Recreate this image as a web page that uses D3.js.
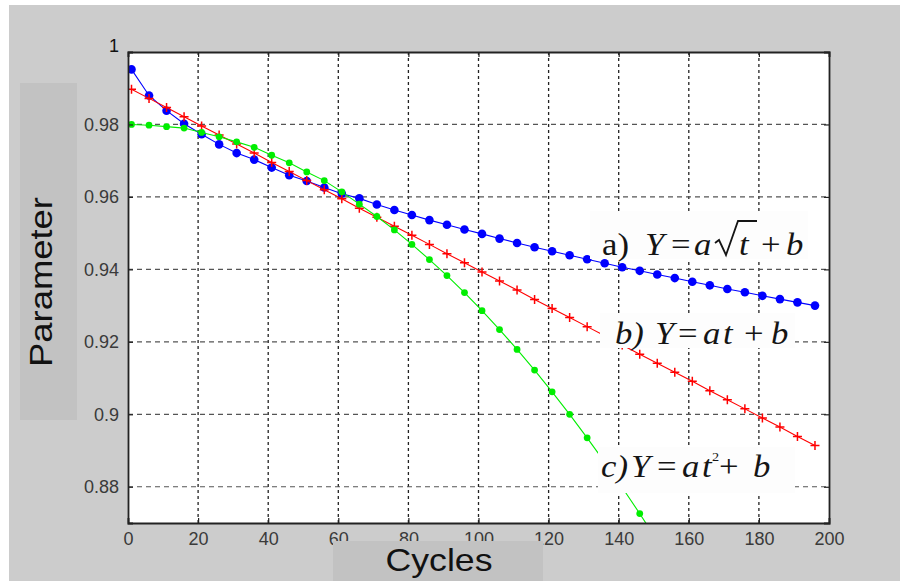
<!DOCTYPE html>
<html>
<head>
<meta charset="utf-8">
<script src="https://cdn.jsdelivr.net/npm/d3@7"></script>
<style>
  body { margin: 0; background: #fff; }
  svg { display: block; }
</style>
</head>
<body>
<svg id="chart"></svg>
<script>
// cycle numbers where the parameter was sampled
const cycles = [1, 6, 11, 16, 21, 26, 31, 36, 41, 46, 51, 56, 61, 66, 71, 76, 81, 86, 91, 96,
                101, 106, 111, 116, 121, 126, 131, 136, 141, 146, 151, 156, 161, 166, 171, 176, 181, 186, 191, 196];

// a) Y = a*sqrt(t) + b  (blue dots)
const paramSqrt = [0.9952, 0.9880, 0.9838, 0.9802, 0.9773, 0.9745, 0.9721, 0.9703, 0.9681, 0.9660,
                   0.9644, 0.9626, 0.9609, 0.9596, 0.9579, 0.9564, 0.9550, 0.9536, 0.9523, 0.9510,
                   0.9498, 0.9485, 0.9473, 0.9461, 0.9450, 0.9439, 0.9428, 0.9417, 0.9406, 0.9396,
                   0.9386, 0.9376, 0.9366, 0.9356, 0.9346, 0.9337, 0.9327, 0.9318, 0.9309, 0.9300];

// b) Y = a*t + b  (red crosses)
const paramLinear = [0.9897, 0.9872, 0.9847, 0.9821, 0.9796, 0.9771, 0.9746, 0.9721, 0.9695, 0.9670,
                     0.9645, 0.9620, 0.9595, 0.9569, 0.9544, 0.9519, 0.9494, 0.9469, 0.9443, 0.9418,
                     0.9393, 0.9368, 0.9343, 0.9317, 0.9292, 0.9267, 0.9242, 0.9217, 0.9191, 0.9166,
                     0.9141, 0.9116, 0.9091, 0.9065, 0.9040, 0.9015, 0.8990, 0.8965, 0.8939, 0.8914];

// c) Y = a*t^2 + b  (green dots, runs off the bottom after ~150 cycles)
const paramSquare = [0.9800, 0.9798, 0.9794, 0.9790, 0.9778, 0.9766, 0.9752, 0.9737, 0.9715, 0.9694,
                     0.9669, 0.9645, 0.9614, 0.9580, 0.9546, 0.9509, 0.9469, 0.9427, 0.9383, 0.9336,
                     0.9286, 0.9234, 0.9179, 0.9122, 0.9062, 0.9000, 0.8935, 0.8868, 0.8798, 0.8726,
                     0.8651];

const xTicks = [0, 20, 40, 60, 80, 100, 120, 140, 160, 180, 200];
const yTicks = [0.88, 0.9, 0.92, 0.94, 0.96, 0.98, 1];
const yTickLabels = ["0.88", "0.9", "0.92", "0.94", "0.96", "0.98", "1"];

const width = 900, height = 581;
const plot = {left: 128, right: 829, top: 52, bottom: 523};

const svg = d3.select("#chart")
    .attr("width", width)
    .attr("height", height)
    .style("font-family", "'Liberation Sans', Arial, sans-serif");

// figure background + y label panel
svg.append("rect").attr("x", 9).attr("y", 5).attr("width", width - 9).attr("height", height - 5)
    .attr("fill", "#cccccc");
svg.append("rect").attr("x", 20).attr("y", 83).attr("width", 57).attr("height", 337)
    .attr("fill", "#c2c2c2");

const x = d3.scaleLinear().domain([0, 200]).range([plot.left, plot.right]);
const y = d3.scaleLinear().domain([0.87, 1]).range([plot.bottom, plot.top]);

svg.append("rect")
    .attr("x", plot.left).attr("y", plot.top)
    .attr("width", plot.right - plot.left).attr("height", plot.bottom - plot.top)
    .attr("fill", "#ffffff");

svg.append("clipPath").attr("id", "clip")
  .append("rect")
    .attr("x", plot.left).attr("y", plot.top)
    .attr("width", plot.right - plot.left).attr("height", plot.bottom - plot.top);

// dotted grid
const grid = svg.append("g");
grid.selectAll("line.gx")
  .data(xTicks.slice(1, -1))
  .join("line")
    .attr("x1", d => x(d)).attr("x2", d => x(d))
    .attr("y1", plot.top).attr("y2", plot.bottom)
    .attr("stroke", "#222").attr("stroke-width", 1.3)
    .attr("stroke-dasharray", "3,3");
grid.selectAll("line.gy")
  .data(yTicks.slice(0, -1))
  .join("line")
    .attr("x1", plot.left).attr("x2", plot.right)
    .attr("y1", d => y(d)).attr("y2", d => y(d))
    .attr("stroke", "#555").attr("stroke-width", 1.2)
    .attr("stroke-dasharray", "5,4");

// series
const series = [
  {values: paramSqrt,   color: "#0000ff", marker: "dot", r: 4.3},
  {values: paramLinear, color: "#ff0000", marker: "plus", r: 4.5},
  {values: paramSquare, color: "#00ee00", marker: "dot", r: 3.4}
];

const line = d3.line()
    .x(d => x(d.t))
    .y(d => y(d.v));

const plotArea = svg.append("g").attr("clip-path", "url(#clip)");

series.forEach(s => {
  const pts = s.values.map((v, i) => ({t: cycles[i], v: v}));
  plotArea.append("path")
      .datum(pts)
      .attr("fill", "none")
      .attr("stroke", s.color)
      .attr("stroke-width", 1.1)
      .attr("d", line);
  if (s.marker === "dot") {
    plotArea.selectAll(null)
      .data(pts)
      .join("circle")
        .attr("cx", d => x(d.t))
        .attr("cy", d => y(d.v))
        .attr("r", s.r)
        .attr("fill", s.color);
  } else {
    plotArea.selectAll(null)
      .data(pts)
      .join("path")
        .attr("transform", d => `translate(${x(d.t)},${y(d.v)})`)
        .attr("d", `M${-s.r},0H${s.r}M0,${-s.r}V${s.r}`)
        .attr("stroke", s.color)
        .attr("stroke-width", 1.5)
        .attr("fill", "none");
  }
});

// white panels behind the equations (they hide lines in the original)
const eqBoxes = [
  {x: 590, y: 211, w: 218, h: 48},
  {x: 600, y: 313, w: 195, h: 35},
  {x: 598, y: 447, w: 197, h: 46}
];
svg.selectAll("rect.eqbox")
  .data(eqBoxes)
  .join("rect")
    .attr("x", d => d.x).attr("y", d => d.y)
    .attr("width", d => d.w).attr("height", d => d.h)
    .attr("fill", "#fdfdfd");

// axes, ticks pointing inward (matlab style)
const tickFmt = d => yTickLabels[yTicks.indexOf(d)];

const axB = svg.append("g")
    .attr("transform", `translate(0,${plot.bottom})`)
    .call(d3.axisBottom(x).tickValues(xTicks).tickSize(-5).tickPadding(9).tickFormat(d3.format("d")));
const axT = svg.append("g")
    .attr("transform", `translate(0,${plot.top})`)
    .call(d3.axisTop(x).tickValues(xTicks).tickSize(-5).tickFormat(""));
const axL = svg.append("g")
    .attr("transform", `translate(${plot.left},0)`)
    .call(d3.axisLeft(y).tickValues(yTicks).tickSize(-5).tickPadding(9).tickFormat(tickFmt));
const axR = svg.append("g")
    .attr("transform", `translate(${plot.right},0)`)
    .call(d3.axisRight(y).tickValues(yTicks).tickSize(-5).tickFormat(""));

[axB, axT, axL, axR].forEach(g => {
  g.select(".domain").attr("stroke", "#222").attr("stroke-width", 1.8);
  g.selectAll(".tick line").attr("stroke", "#222").attr("stroke-width", 1.2);
  g.selectAll(".tick text")
      .attr("fill", "#3a3a3a")
      .style("font-family", "'Liberation Sans', Arial, sans-serif")
      .style("font-size", "18px");
});
axL.selectAll(".tick text").filter(d => d === 1).attr("fill", "#111").attr("dy", "-0.05em");

// x label panel sits on top of the tick labels, as in the original
svg.append("rect").attr("x", 333).attr("y", 541).attr("width", 210).attr("height", 40)
    .attr("fill", "#c2c2c2");

// axis titles
svg.append("text")
    .attr("transform", "translate(52,282) rotate(-90)")
    .attr("text-anchor", "middle")
    .attr("textLength", 170)
    .attr("lengthAdjust", "spacingAndGlyphs")
    .attr("fill", "#111")
    .style("font-size", "32px")
    .text("Parameter");
svg.append("text")
    .attr("x", 439).attr("y", 571)
    .attr("text-anchor", "middle")
    .attr("textLength", 107)
    .attr("lengthAdjust", "spacingAndGlyphs")
    .attr("fill", "#111")
    .style("font-size", "32px")
    .text("Cycles");

// equation labels, glyph by glyph
const eqPieces = [
  // a)
  {s: "a)", x: 602, y: 255, it: false},
  {s: "Y", x: 645, y: 255, it: true},
  {s: "=", x: 671, y: 255, it: false},
  {s: "a", x: 694, y: 255, it: true},
  {s: "t", x: 739, y: 255, it: true},
  {s: "+", x: 761, y: 255, it: false},
  {s: "b", x: 786, y: 255, it: true},
  // b)
  {s: "b)", x: 615, y: 344, it: true},
  {s: "Y", x: 655, y: 344, it: true},
  {s: "=", x: 678, y: 344, it: false},
  {s: "a", x: 703, y: 344, it: true},
  {s: "t", x: 723, y: 344, it: true},
  {s: "+", x: 744, y: 344, it: false},
  {s: "b", x: 771, y: 344, it: true},
  // c)
  {s: "c)", x: 601, y: 477, it: true},
  {s: "Y", x: 631, y: 477, it: true},
  {s: "=", x: 657, y: 477, it: false},
  {s: "a", x: 682, y: 477, it: true},
  {s: "t", x: 702, y: 477, it: true},
  {s: "+", x: 719, y: 477, it: false},
  {s: "b", x: 753, y: 477, it: true}
];

const eq = svg.append("g")
    .style("font-family", "'Liberation Serif', 'Times New Roman', serif")
    .style("font-size", "31px")
    .attr("fill", "#151515");

eq.selectAll("text")
  .data(eqPieces)
  .join("text")
    .attr("transform", d => `translate(${d.x},${d.y}) scale(1.12,1)`)
    .style("font-style", d => d.it ? "italic" : "normal")
    .text(d => d.s);

// superscript 2 in c)
eq.append("text")
    .attr("transform", "translate(712,461) scale(1.1,1)")
    .style("font-size", "13px")
    .text("2");

// radical sign for sqrt(t)
eq.append("path")
    .attr("d", "M715,243L719,240L726,255L738,221L757,221")
    .attr("fill", "none")
    .attr("stroke", "#151515")
    .attr("stroke-width", 1.8);
</script>
</body>
</html>
